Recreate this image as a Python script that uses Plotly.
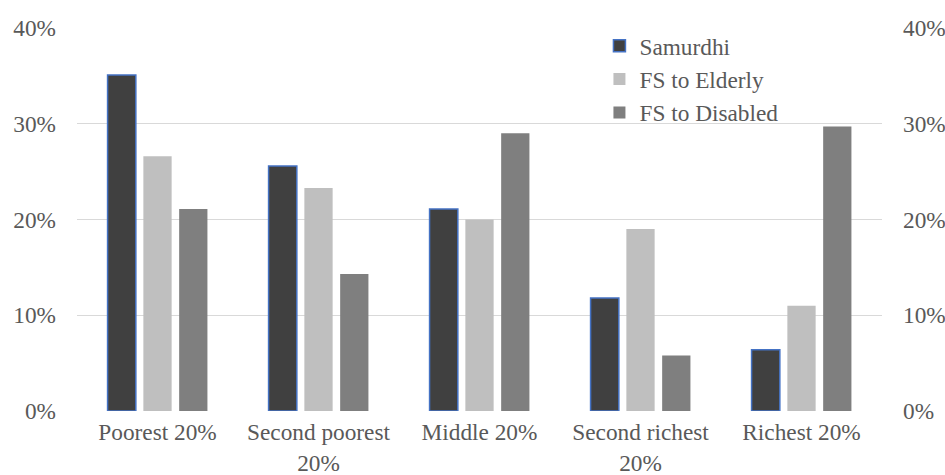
import plotly.graph_objects as go

# Share of beneficiaries by consumption quintile
quintiles = ["Poorest 20%", "Second poorest<br>20%", "Middle 20%", "Second richest<br>20%", "Richest 20%"]
samurdhi = [35.1, 25.6, 21.1, 11.8, 6.4]
fs_elderly = [26.6, 23.3, 20.0, 19.0, 11.0]
fs_disabled = [21.1, 14.3, 29.0, 5.8, 29.7]

tick_vals = [0, 10, 20, 30, 40]
tick_text = ["0%", "10%", "20%", "30%", "40%"]

FONT = "Liberation Serif"
TXT = "#595959"
FS = 23.3

fig = go.Figure()
fig.add_trace(go.Bar(x=quintiles, y=samurdhi, name="Samurdhi",
                     marker=dict(color="#404040", line=dict(color="#4472C4", width=1.5))))
fig.add_trace(go.Bar(x=quintiles, y=fs_elderly, name="FS to Elderly",
                     marker=dict(color="#BFBFBF", line=dict(width=0))))
fig.add_trace(go.Bar(x=quintiles, y=fs_disabled, name="FS to Disabled",
                     marker=dict(color="#7F7F7F", line=dict(width=0))))
# invisible series to carry the secondary (right) axis
fig.add_trace(go.Scatter(x=quintiles, y=samurdhi, yaxis="y2", mode="markers",
                         marker=dict(opacity=0), showlegend=False, hoverinfo="skip"))

fig.update_layout(
    width=945, height=475,
    margin=dict(l=77, r=63, t=28, b=64),
    paper_bgcolor="white", plot_bgcolor="white",
    font=dict(family=FONT, size=FS, color=TXT),
    barmode="group", bargap=0.333, bargroupgap=0.21,
    xaxis=dict(showgrid=False, showline=False, ticks="", ticklabelstandoff=5,
               automargin=False,
               tickfont=dict(family=FONT, size=FS, color=TXT)),
    yaxis=dict(range=[0, 40], tickvals=tick_vals, ticktext=tick_text,
               showgrid=True, gridcolor="#D9D9D9", gridwidth=1.3,
               zeroline=False, showline=False, ticks="", ticklabelstandoff=20,
               automargin=False,
               tickfont=dict(family=FONT, size=FS, color=TXT)),
    yaxis2=dict(range=[0, 40], tickvals=tick_vals, ticktext=tick_text,
                overlaying="y", side="right", showgrid=False, zeroline=False,
                showline=False, ticks="", ticklabelstandoff=20,
                automargin=False,
                tickfont=dict(family=FONT, size=FS, color=TXT)),
    legend=dict(x=0.649, y=1.01, xanchor="left", yanchor="top",
                bgcolor="rgba(0,0,0,0)", traceorder="normal",
                font=dict(family=FONT, size=FS, color=TXT),
                itemwidth=30),
)

fig.write_html("out.html")
